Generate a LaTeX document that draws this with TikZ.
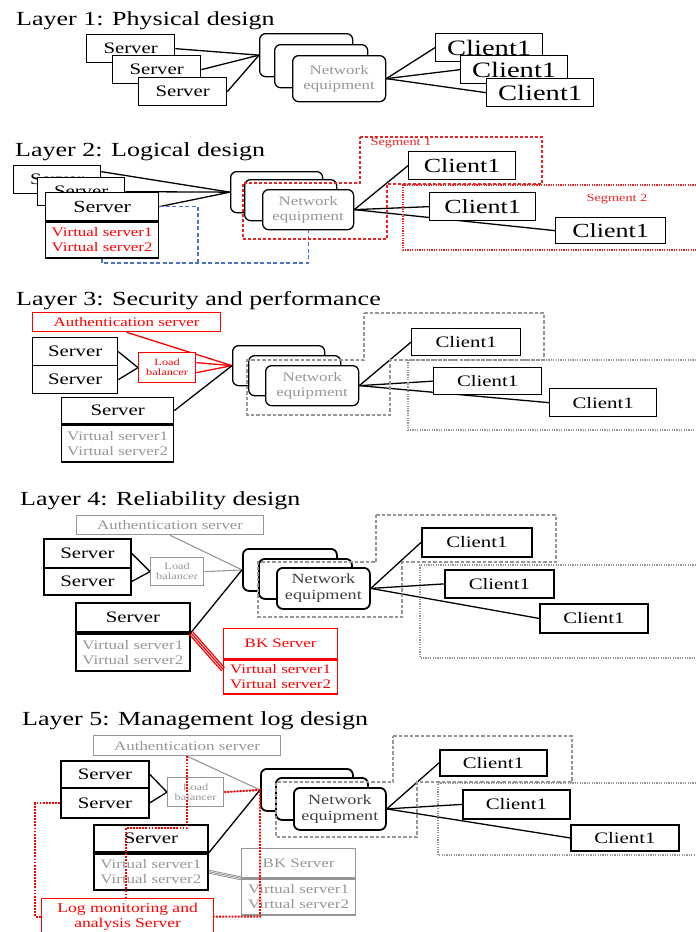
\documentclass[tikz,border=0pt]{standalone}
\usepackage{fontspec}
\setmainfont{Liberation Serif}[FakeStretch=1.3]
\usetikzlibrary{backgrounds}
\definecolor{segred}{RGB}{235,35,35}
\definecolor{lanblue}{RGB}{75,115,205}
\definecolor{faint}{RGB}{150,150,150}
\newcommand{\fsz}[2]{\fontsize{#1}{#2}\selectfont}

\tikzset{
  box/.style={draw, fill=white, inner sep=0pt, anchor=north west, line width=1.3pt, align=center},
  dims/.style 2 args={minimum width=#1, minimum height=#2},
  heavy/.style={line width=1.8pt},
  srv/.style={box, font=\fsz{16}{18}},
  virt/.style={box, font=\fsz{13}{15}},
  netbox/.style={box, rounded corners=6pt, text=faint, font=\fsz{13}{15}},
  cli/.style={box, font=\fsz{16}{18}},
  layertitle/.style={anchor=base west, inner sep=0pt, font=\fsz{20}{22}},
  wire/.style={line width=1.3pt},
  dimwire/.style={line width=1.1pt, faint},
  segbox/.style={segred, line width=1.3pt, dash pattern=on 3pt off 2pt},
  segdots/.style={segred, line width=1.3pt, dash pattern=on 1.2pt off 1.2pt},
  zonebox/.style={faint, line width=1.3pt, dash pattern=on 3.5pt off 2pt},
  zonedots/.style={faint, line width=1.1pt, dash pattern=on 1.2pt off 1.2pt},
  vlan/.style={lanblue, line width=1.3pt, dash pattern=on 4pt off 2.5pt},
  logline/.style={red, line width=1.9pt, dash pattern=on 1.8pt off 1.3pt},
  seglabel/.style={segred, inner sep=0pt, font=\fsz{11}{12}},
}

\begin{document}
\begin{tikzpicture}[x=1pt, y=-1pt]
\useasboundingbox (0,0) rectangle (696,932);

% Layer 1
\node[layertitle] (t1) at (16,25) {Layer 1: Physical design};
\foreach \n/\x/\y in {a/86/34, b/112/55, c/138/77}
  \node[srv, dims={88}{28}] (s1\n) at (\x,\y) {Server};
\node[netbox, dims={93}{43}] (n1b) at (259,33) {};
\node[netbox, dims={93}{43}] (n1m) at (274,44) {};
\node[netbox, dims={93}{46}] (n1f) at (292,55) {Network\\equipment};
\foreach \n/\x/\y in {a/435/33, b/460/55, c/486/78}
  \node[cli, dims={107}{28}, font=\fsz{22}{24}] (c1\n) at (\x,\y) {Client1};
\begin{scope}[on background layer]
  \foreach \n in {a,b,c} {
    \draw[wire] (s1\n.east) -- (n1b.west);
    \draw[wire] (n1f.east) -- (c1\n.west);
  }
\end{scope}

% Layer 2
\node[layertitle] (t2) at (15,156) {Layer 2: Logical design};
\node[srv, dims={87}{28}] (s2a) at (13,165) {Server};
\node[srv, dims={87}{28}] (s2b) at (37,177) {Server};
\node[srv, dims={113}{28}, font=\fsz{17}{19}] (s2c) at (45,192) {Server};
\node[virt, dims={113}{36}, text=red] (s2v) at (s2c.south west) {Virtual server1\\Virtual server2};
\node[netbox, dims={92}{41}] (n2b) at (230,171) {};
\node[netbox, dims={92}{41}] (n2m) at (244,179) {};
\node[netbox, dims={91}{40}] (n2f) at (262,189) {Network\\equipment};
\node[cli, dims={107}{28}, font=\fsz{20}{22}] (c2a) at (408,151) {Client1};
\node[cli, dims={106}{28}, font=\fsz{20}{22}] (c2b) at (429,192) {Client1};
\node[cli, dims={110}{26}, font=\fsz{20}{22}] (c2c) at (555,217) {Client1};
\begin{scope}[on background layer]
  \draw[wire] ([yshift=8]s2a.east) -- (n2b.west);
  \draw[wire] (s2b.east) -- (n2b.west);
  \draw[wire] (s2c.east) -- (n2b.west);
  \foreach \n in {a,b,c}
    \draw[wire] (n2f.east) -- (c2\n.west);
\end{scope}
\coordinate (b2l) at (102,263);
\coordinate (b2r) at (198,263);
\draw[vlan] (s2v.south -| b2l) -- (b2l) -| (n2f.south);
\draw[vlan] (s2c.east) -| (b2r);
\draw[segbox] (360,137) -- (542,137) -- (542,184) -- (387,184) -- (387,239)
  -- (243,239) -- (243,183) -- (360,183) -- cycle;
\node[seglabel] (g1) at (401,143) {Segment 1};
\draw[segdots] (696,185) -- (403,185) -- (403,250) -- (696,250);
\node[seglabel] (g2) at (617,199) {Segment 2};

% Layer 3
\node[layertitle] (t3) at (16,305) {Layer 3: Security and performance};
\node[box, dims={188}{19}, draw=red, text=red, font=\fsz{13}{15}] (a3) at (32,312) {Authentication server};
\node[srv, dims={85}{28}] (s3a) at (32,337) {Server};
\node[srv, dims={85}{28}] (s3b) at (32,365) {Server};
\node[box, dims={57}{30}, draw=red, text=red, font=\fsz{9.5}{10}] (lb3) at (138,352) {Load\\balancer};
\node[srv, dims={112}{26}] (s3c) at (61,397) {Server};
\node[virt, dims={112}{37}, text=faint] (s3v) at (s3c.south west) {Virtual server1\\Virtual server2};
\node[netbox, dims={92}{40}] (n3b) at (232,345) {};
\node[netbox, dims={92}{40}] (n3m) at (248,355) {};
\node[netbox, dims={93}{40}] (n3f) at (265,365) {Network\\equipment};
\node[cli, dims={109}{27}] (c3a) at (411,328) {Client1};
\node[cli, dims={108}{27}] (c3b) at (433,367) {Client1};
\node[cli, dims={107}{28}] (c3c) at (549,388) {Client1};
\begin{scope}[on background layer]
  \draw[wire] (s3a.east) -- (lb3.west);
  \draw[wire] (s3b.east) -- (lb3.west);
  \draw[wire, red] ([yshift=5]lb3.east) -- (n3b.west);
  \draw[wire, red] ([yshift=-5]lb3.east) -- (n3b.west);
  \draw[wire, red] (a3.south) -- (n3b.west);
  \draw[wire] (s3c.east) -- (n3b.west);
  \foreach \n in {a,b,c}
    \draw[wire] (n3f.east) -- (c3\n.west);
\end{scope}
\draw[zonebox] (364,313) -- (544,313) -- (544,360) -- (390,360) -- (390,415)
  -- (247,415) -- (247,360) -- (364,360) -- cycle;
\draw[zonedots] (696,360) -- (408,360) -- (408,430) -- (696,430);

% Layer 4
\node[layertitle] (t4) at (20,505) {Layer 4: Reliability design};
\node[box, dims={187}{19}, draw=faint, text=faint, font=\fsz{13}{15}] (a4) at (76,515) {Authentication server};
\node[srv, heavy, dims={87}{29}] (s4a) at (43,538) {Server};
\node[srv, heavy, dims={87}{27}] (s4b) at (43,567) {Server};
\node[box, dims={53}{28}, draw=faint, text=faint, font=\fsz{9.5}{10}] (lb4) at (150,557) {Load\\balancer};
\node[srv, heavy, dims={114}{29}] (s4c) at (75,602) {Server};
\node[virt, heavy, dims={114}{37}, text=faint] (s4v) at (s4c.south west) {Virtual server1\\Virtual server2};
\node[box, dims={114}{30}, draw=red, text=red, font=\fsz{13}{15}] (bk4) at (223,628) {BK Server};
\node[virt, dims={114}{34}, draw=red, text=red] (bk4v) at (bk4.south west) {Virtual server1\\Virtual server2};
\node[netbox, heavy, dims={94}{42}] (n4b) at (242,548) {};
\node[netbox, heavy, dims={93}{40}] (n4m) at (258,558) {};
\node[netbox, heavy, dims={93}{41}, text=black!75, font=\fsz{14}{16}] (n4f) at (276,567) {Network\\equipment};
\node[cli, heavy, dims={110}{29}] (c4a) at (421,527) {Client1};
\node[cli, heavy, dims={109}{28}] (c4b) at (444,569) {Client1};
\node[cli, heavy, dims={108}{29}] (c4c) at (539,603) {Client1};
\begin{scope}[on background layer]
  \draw[wire] (s4a.east) -- (lb4.west);
  \draw[wire] (s4b.east) -- (lb4.west);
  \draw[dimwire] (lb4.east) -- (n4b.west);
  \draw[dimwire] (a4.south) -- (n4b.west);
  \draw[wire] (s4c.south east) -- (n4b.west);
  \foreach \n in {a,b,c}
    \draw[wire] (n4f.east) -- (c4\n.west);
\end{scope}
\foreach \d in {-1.5,0,1.5}
  \draw[red, line width=1.2pt] ([xshift=\d pt, yshift=\d pt]s4v.north east)
    -- ([xshift=\d pt, yshift=\d pt-10pt]bk4v.north west);
\draw[zonebox] (376,515) -- (556,515) -- (556,562) -- (402,562) -- (402,617)
  -- (258,617) -- (258,562) -- (376,562) -- cycle;
\draw[zonedots] (696,565) -- (420,565) -- (420,658) -- (696,658);

% Layer 5
\node[layertitle] (t5) at (22,725) {Layer 5: Management log design};
\node[box, dims={187}{20}, draw=faint, text=faint, font=\fsz{13}{15}] (a5) at (93,735) {Authentication server};
\node[srv, heavy, dims={88}{27}] (s5a) at (60,760) {Server};
\node[srv, heavy, dims={88}{30}] (s5b) at (60,787) {Server};
\node[box, dims={56}{29}, draw=faint, text=faint, font=\fsz{9.5}{10}] (lb5) at (167,777) {Load\\balancer};
\node[srv, heavy, dims={114}{27}] (s5c) at (93,824) {Server};
\node[virt, heavy, dims={114}{36}, text=faint] (s5v) at (s5c.south west) {Virtual server1\\Virtual server2};
\node[box, dims={114}{29}, draw=faint, text=faint, font=\fsz{13}{15}] (bk5) at (241,848) {BK Server};
\node[virt, dims={114}{36}, draw=faint, text=faint] (bk5v) at (bk5.south west) {Virtual server1\\Virtual server2};
\node[box, dims={172}{36}, draw=red, text=red, font=\fsz{13.5}{15}] (log) at (41,898) {Log monitoring and\\analysis Server};
\node[netbox, heavy, dims={92}{42}] (n5b) at (260,768) {};
\node[netbox, heavy, dims={92}{42}] (n5m) at (275,777) {};
\node[netbox, heavy, dims={92}{42}, text=black!75, font=\fsz{14}{16}] (n5f) at (293,787) {Network\\equipment};
\node[cli, heavy, dims={107}{26}] (c5a) at (439,749) {Client1};
\node[cli, heavy, dims={107}{29}] (c5b) at (462,789) {Client1};
\node[cli, heavy, dims={108}{26}] (c5c) at (570,824) {Client1};
\begin{scope}[on background layer]
  \draw[wire] (s5a.east) -- (lb5.west);
  \draw[wire] (s5b.east) -- (lb5.west);
  \draw[dimwire] (lb5.east) -- (n5b.west);
  \draw[dimwire] (a5.south) -- (n5b.west);
  \draw[wire] (s5c.south east) -- (n5b.west);
  \foreach \n in {a,b,c}
    \draw[wire] (n5f.east) -- (c5\n.west);
\end{scope}
\foreach \d in {-1.5,0,1.5}
  \draw[faint, line width=0.9pt] ([yshift=\d pt]s5v.east) -- ([yshift=\d pt]bk5v.north west);
\draw[zonebox] (393,736) -- (572,736) -- (572,782) -- (417,782) -- (417,837)
  -- (276,837) -- (276,782) -- (393,782) -- cycle;
\draw[zonedots] (696,783) -- (438,783) -- (438,855) -- (696,855);
\coordinate (l5a) at (126,828);
\coordinate (l5c) at (35,0);
\draw[logline] (a5.south) |- (l5a) -- (l5a |- log.north);
\draw[logline] (lb5.east) -- (n5b.west) |- (log.east);
\draw[logline] (s5b.west) -| (log.west -| l5c) -- (log.west);
\end{tikzpicture}
\end{document}
